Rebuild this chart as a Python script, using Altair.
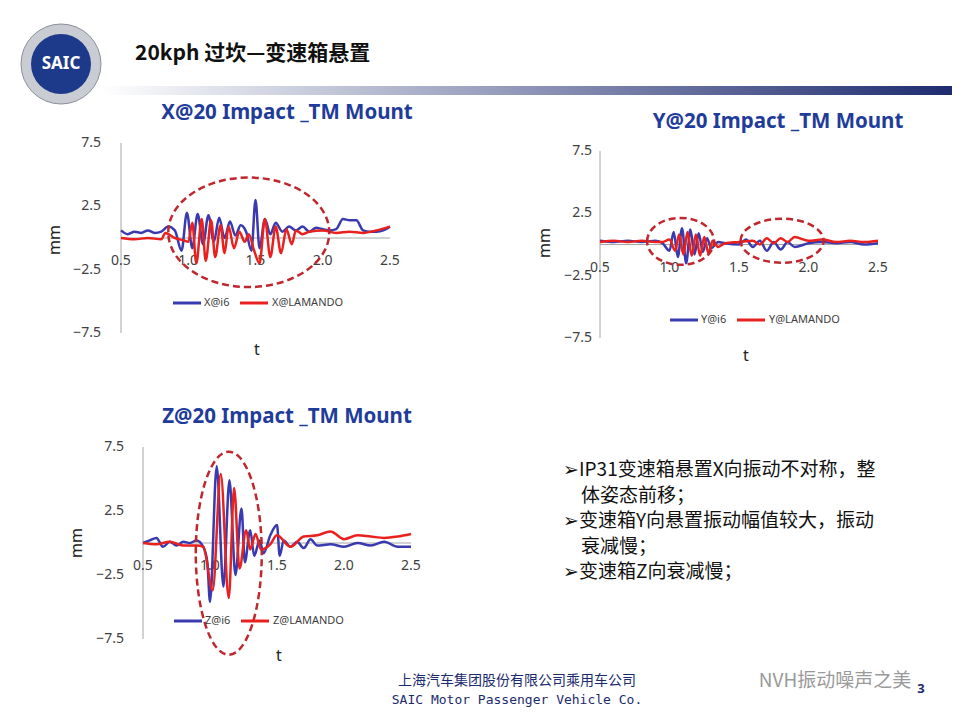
import altair as alt
import pandas as pd

BLUE = "#3a3ab0"
RED = "#e8201e"
DASH = "#c0262d"
GRAY = "#a6a6a6"
FONT = "Noto Sans"

# ---- data ----
x_i6_t = [0.5, 0.55, 0.6, 0.65, 0.7, 0.75, 0.8, 0.85, 0.9, 0.95,
          0.99, 1.03, 1.07, 1.11, 1.15, 1.19, 1.23, 1.27, 1.31, 1.35, 1.39, 1.43, 1.47,
          1.5, 1.53, 1.57, 1.61, 1.65,
          1.7, 1.75, 1.8, 1.85, 1.9, 1.95, 2.0, 2.05, 2.1, 2.15, 2.2, 2.25, 2.3, 2.35, 2.4, 2.45, 2.5]
x_i6_v = [0.6, 0.3, 0.5, 0.4, 0.6, 0.4, 0.5, 0.9, 0.6, -1.0,
          2.0, -0.8, 1.9, -0.5, 1.8, -0.3, 1.6, 0.0, 1.3, 0.2, 1.0, 0.5, -1.0,
          3.0, -0.8, 1.5, 0.3, 1.2,
          0.5, 0.9, 0.6, 0.9, 0.5, 0.8, 0.7, 0.6, 0.7, 1.5, 1.4, 1.4, 0.6, 0.5, 0.5, 0.6, 0.9]
x_lam_t = [0.5, 0.6, 0.7, 0.8, 0.83, 0.9, 0.97, 1.0,
           1.03, 1.06, 1.1, 1.13, 1.17, 1.2, 1.24, 1.27, 1.3, 1.34, 1.38, 1.42, 1.45, 1.49,
           1.53, 1.57, 1.61, 1.65, 1.69, 1.73, 1.77, 1.8,
           1.85, 1.9, 2.0, 2.1, 2.2, 2.3, 2.4, 2.5]
x_lam_v = [0.0, -0.1, 0.0, -0.1, 0.4, 0.0, -0.2, -0.3,
           1.2, -2.0, 1.5, -1.8, 1.4, -1.5, 1.0, -1.2, 0.9, -0.8, 0.5, -0.3, 0.3, -1.0,
           -2.0, 1.5, -1.5, 0.9, -1.2, 0.7, -0.5, 0.6,
           0.3, 0.5, 0.6, 0.4, 0.5, 0.4, 0.6, 0.9]

y_i6_t = [0.5, 0.6, 0.7, 0.8, 0.9, 0.95,
          1.0, 1.03, 1.06, 1.09, 1.12, 1.15, 1.18, 1.21, 1.24, 1.27, 1.3,
          1.35, 1.4, 1.5, 1.55, 1.6, 1.65, 1.7, 1.75, 1.8, 1.85, 1.9,
          2.0, 2.1, 2.2, 2.3, 2.4, 2.5]
y_i6_v = [0.3, 0.2, 0.3, 0.2, 0.3, 0.1,
          -0.5, 1.0, -1.0, 1.3, -1.5, 1.2, -0.8, 0.9, -0.6, 0.5, -0.3,
          0.2, 0.1, 0.0, 0.4, -0.2, 0.3, -0.5, 0.2, -0.4, 0.2, -0.2,
          0.1, 0.2, 0.1, 0.2, 0.0, 0.1]
y_lam_t = [0.5, 0.6, 0.7, 0.8, 0.9, 0.95,
           1.0, 1.04, 1.07, 1.1, 1.13, 1.16, 1.19, 1.22, 1.25, 1.28, 1.31,
           1.35, 1.4, 1.5, 1.6, 1.65, 1.7, 1.75, 1.8, 1.85, 1.9,
           2.0, 2.1, 2.2, 2.3, 2.4, 2.5]
y_lam_v = [0.2, 0.3, 0.2, 0.3, 0.2, 0.2,
           0.4, -0.5, 0.8, -0.8, 1.0, -0.9, 0.8, -0.9, 0.6, -0.7, 0.3,
           -0.2, 0.1, 0.2, 0.3, 0.0, 0.5, 0.1, 0.5, 0.2, 0.6,
           0.3, 0.4, 0.2, 0.3, 0.2, 0.3]

z_i6_t = [0.5, 0.55, 0.6, 0.65, 0.7, 0.75, 0.8, 0.85, 0.9, 0.95,
          0.98, 1.0, 1.05, 1.1, 1.145, 1.19, 1.235, 1.26, 1.3, 1.33, 1.37, 1.4, 1.45, 1.5, 1.52, 1.55,
          1.6, 1.65, 1.7, 1.75, 1.8, 1.9, 2.0, 2.1, 2.2, 2.3, 2.4, 2.5]
z_i6_v = [0.0, 0.2, 0.4, -0.3, 0.1, -0.2, 0.1, 0.0, 0.2, -0.3,
          -1.5, -4.6, 6.0, -3.4, 4.9, -2.5, 2.7, -1.5, 1.0, -1.0, 0.2, -0.8, 0.6, 1.4, -1.0, 0.2,
          -0.3, 0.1, -0.4, 0.3, -0.2, -0.1, -0.3, 0.0, -0.2, 0.1, -0.3, -0.3]
z_lam_t = [0.5, 0.6, 0.7, 0.8, 0.9, 0.95,
           1.02, 1.08, 1.14, 1.18, 1.22, 1.27, 1.3, 1.34, 1.38,
           1.45, 1.5, 1.6, 1.7, 1.8, 1.9, 2.0, 2.1, 2.2, 2.3, 2.4, 2.5]
z_lam_v = [0.0, -0.1, 0.1, -0.2, -0.2, -0.3,
           -3.7, 5.4, -4.3, 4.3, -2.0, 1.0, -0.5, 0.7, -0.5,
           -0.1, 0.6, -0.3, 0.5, 0.6, 0.9, 0.3, 0.6, 0.5, 0.4, 0.5, 0.7]

x_ticks = [0.5, 1.0, 1.5, 2.0, 2.5]
y_ticks = [7.5, 2.5, -2.5, -7.5]

bullets = ["➢IP31变速箱悬置X向振动不对称，整", "体姿态前移；",
           "➢变速箱Y向悬置振动幅值较大，振动", "衰减慢；", "➢变速箱Z向衰减慢；"]
bullet_indent = [0, 18, 0, 18, 0]


def p(v):
    return v - 8


def ellipse_path(rx, ry):
    return f"M {-rx} 0 A {rx} {ry} 0 1 1 {rx} 0 A {rx} {ry} 0 1 1 {-rx} 0 Z"


def label(text, x, y, size=14, color="#333333", weight="normal", angle=0, font=FONT, align="center"):
    return alt.Chart(pd.DataFrame({"s": [text]})).mark_text(
        fontSize=size, color=color, fontWeight=weight, angle=angle, font=font,
        align=align, baseline="middle"
    ).encode(text="s:N", x=alt.value(p(x)), y=alt.value(p(y)))


def panel(axis, i6, lam, box, ellipses, title_xy, mm_xy, t_xy, leg, gap):
    xl, xr, yt, yb = box
    xs = alt.Scale(domain=[0.5, 2.5], range=[p(xl), p(xr)], nice=False, zero=False)
    ys = alt.Scale(domain=[-7.5, 7.5], range=[p(yb), p(yt)], nice=False, zero=False)
    n1, n2 = f"{axis}@i6", f"{axis}@LAMANDO"
    df = pd.concat([
        pd.DataFrame({"t": i6[0], "v": i6[1], "s": n1}),
        pd.DataFrame({"t": lam[0], "v": lam[1], "s": n2}),
    ])
    one = pd.DataFrame({"a": [0]})
    yaxis = alt.Chart(one).mark_rule(color=GRAY).encode(
        x=alt.X(datum=0.5, scale=xs, axis=None),
        y=alt.Y(datum=-7.5, scale=ys, axis=None), y2=alt.Y2(datum=7.5))
    xaxis = alt.Chart(one).mark_rule(color=GRAY).encode(
        x=alt.X(datum=0.5, scale=xs, axis=None), x2=alt.X2(datum=2.5),
        y=alt.Y(datum=0, scale=ys, axis=None))
    xlab = alt.Chart(pd.DataFrame({"t": x_ticks})).mark_text(
        fontSize=14, color="#404040", font=FONT, dy=23).encode(
        x=alt.X("t:Q", scale=xs, axis=None), y=alt.Y(datum=0, scale=ys, axis=None),
        text=alt.Text("t:Q", format=".1f"))
    ylab = alt.Chart(pd.DataFrame({"v": y_ticks})).mark_text(
        fontSize=14, color="#404040", font=FONT, align="right", dx=-gap).encode(
        x=alt.X(datum=0.5, scale=xs, axis=None), y=alt.Y("v:Q", scale=ys, axis=None),
        text=alt.Text("v:Q", format=".1f"))
    lines = alt.Chart(df).mark_line(strokeWidth=2.5, interpolate="monotone").encode(
        x=alt.X("t:Q", scale=xs, axis=None), y=alt.Y("v:Q", scale=ys, axis=None),
        color=alt.Color("s:N", scale=alt.Scale(domain=[n1, n2], range=[BLUE, RED]), legend=None))
    ell = alt.Chart(pd.DataFrame({
        "t": [e[0] for e in ellipses], "v": [e[1] for e in ellipses],
        "shape": [ellipse_path(e[2], e[3]) for e in ellipses],
        "size": [e[4] ** 2 for e in ellipses]})).mark_point(
        filled=False, color=DASH, strokeWidth=2.5, strokeDash=[7, 4], opacity=1).encode(
        x=alt.X("t:Q", scale=xs, axis=None), y=alt.Y("v:Q", scale=ys, axis=None),
        shape=alt.Shape("shape:N", scale=None), size=alt.Size("size:Q", scale=None))
    lx, ly = leg
    legend = [
        alt.Chart(one).mark_rule(color=BLUE, strokeWidth=3).encode(
            x=alt.value(p(lx)), x2=alt.value(p(lx + 28)), y=alt.value(p(ly))),
        label(n1, lx + 31, ly, size=11, color="#404040", align="left"),
        alt.Chart(one).mark_rule(color=RED, strokeWidth=3).encode(
            x=alt.value(p(lx + 67)), x2=alt.value(p(lx + 95)), y=alt.value(p(ly))),
        label(n2, lx + 99, ly, size=11, color="#404040", align="left"),
    ]
    return alt.layer(
        yaxis, xaxis, xlab, ylab, lines, ell,
        label(f"{axis}@20 Impact _TM Mount", *title_xy, size=20.5, color="#1f3c9b", weight="bold"),
        label("mm", *mm_xy, size=16, color="#222222", angle=270),
        label("t", *t_xy, size=16, color="#222222"),
        *legend,
    )


px_ = panel("X", (x_i6_t, x_i6_v), (x_lam_t, x_lam_v), (121, 390, 143, 333),
            [(1.45, 0.45, 1, 0.68, 161)], (287, 113), (55, 240), (257, 350), (173, 303), 20)
py_ = panel("Y", (y_i6_t, y_i6_v), (y_lam_t, y_lam_v), (600, 878, 151, 338),
            [(1.08, 0.25, 1, 0.7, 67), (1.81, 0.3, 1, 0.53, 83)], (778, 122), (545, 243),
            (746, 356), (670, 320), 8)
pz_ = panel("Z", (z_i6_t, z_i6_v), (z_lam_t, z_lam_v), (143, 411, 447, 639),
            [(1.14, -0.8, 0.325, 1, 203)], (287, 417), (77, 543), (279, 656), (174, 621), 19)

one = pd.DataFrame({"a": [0]})
bar = alt.Chart(one).mark_rect(color=alt.Gradient(
    gradient="linear", x1=0, x2=1, y1=0, y2=0,
    stops=[alt.GradientStop(color="#ffffff", offset=0),
           alt.GradientStop(color="#1c2a6e", offset=1)])).encode(
    x=alt.value(p(100)), x2=alt.value(p(960)), y=alt.value(p(86)), y2=alt.value(p(95)))
logo_ring = alt.Chart(one).mark_point(filled=True, color="#c9ccd3", stroke="#8a8f99",
                                      strokeWidth=1, size=6400, opacity=1).encode(
    x=alt.value(p(61)), y=alt.value(p(64)))
logo_in = alt.Chart(one).mark_point(filled=True, color="#1d3a8a", size=3600, opacity=1).encode(
    x=alt.value(p(61)), y=alt.value(p(64)))
header = [
    bar, logo_ring, logo_in,
    label("SAIC", 61, 64, size=17, color="white", weight="bold"),
    label("20kph 过坎—变速箱悬置", 135, 54, size=21, color="#111111", weight="bold",
          font="Noto Sans CJK SC", align="left"),
]
text_block = [label(b, 563 + bullet_indent[i], 470 + 25.5 * i, size=19, color="#111111",
                    font="Noto Sans CJK SC", align="left") for i, b in enumerate(bullets)]
footer = [
    label("上海汽车集团股份有限公司乘用车公司", 517, 681, size=14, color="#1c2a6e",
          font="Noto Sans CJK SC"),
    label("SAIC Motor Passenger Vehicle Co.", 517, 700, size=13, color="#1c2a6e",
          font="DejaVu Sans Mono"),
    label("NVH振动噪声之美", 835, 681, size=19, color="#9a9a9a", font="Noto Sans CJK SC"),
    label("3", 921, 689, size=13, color="#1c2a6e", weight="bold"),
]

chart = alt.layer(
    *header, px_, py_, pz_, *text_block, *footer
).resolve_scale(x="independent", y="independent", color="independent").properties(
    width=944, height=704, padding=0, autosize=alt.AutoSizeParams(type="none")
).configure_view(stroke=None)

chart.save("out.html", embed_options={"renderer": "svg", "actions": False})
